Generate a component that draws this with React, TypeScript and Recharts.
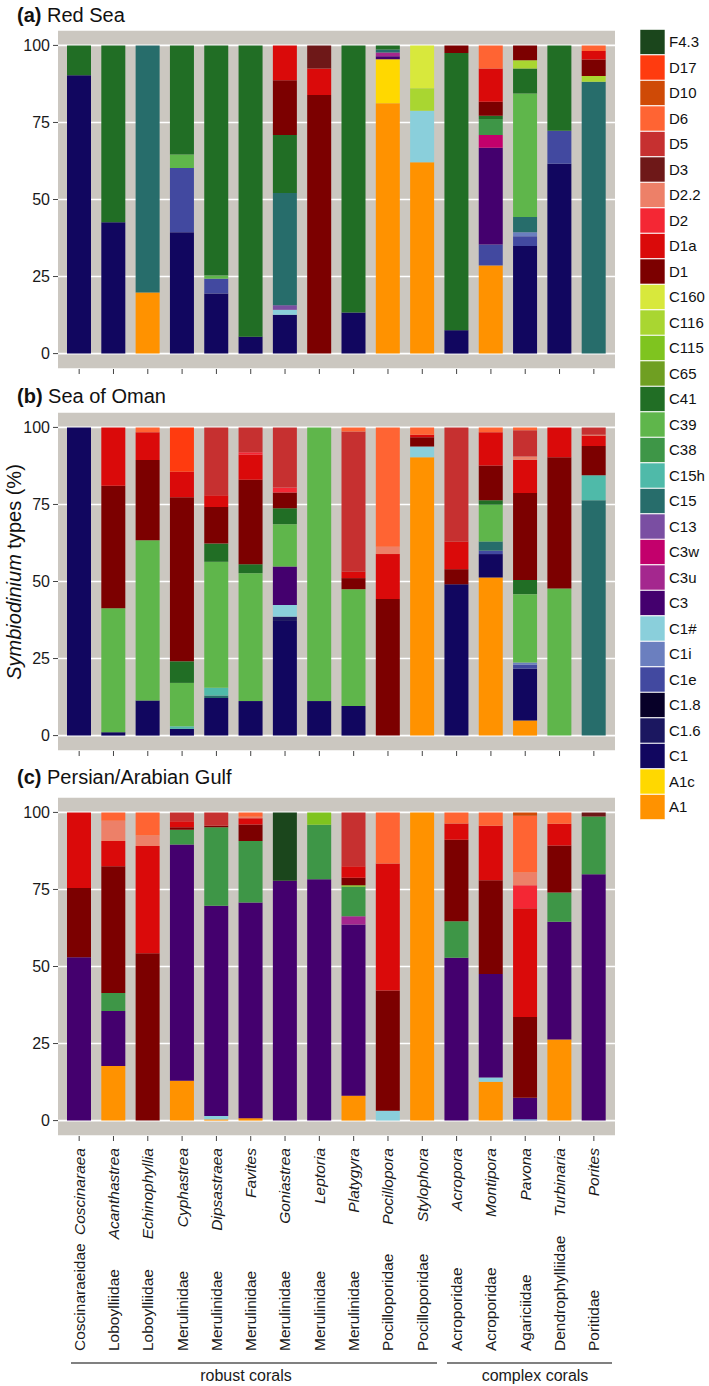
import React from 'react';
import { Bar, BarChart, CartesianGrid, XAxis, YAxis } from 'recharts';

// Symbiodinium type composition per coral genus in three regions.
const GENERA = [
  'Coscinaraea', 'Acanthastrea', 'Echinophyllia', 'Cyphastrea', 'Dipsastraea', 'Favites',
  'Goniastrea', 'Leptoria', 'Platygyra', 'Pocillopora', 'Stylophora', 'Acropora',
  'Montipora', 'Pavona', 'Turbinaria', 'Porites',
];

const FAMILIES = [
  'Coscinaraeidae', 'Loboylliidae', 'Loboylliidae', 'Merulinidae', 'Merulinidae', 'Merulinidae',
  'Merulinidae', 'Merulinidae', 'Merulinidae', 'Pocilloporidae', 'Pocilloporidae', 'Acroporidae',
  'Acroporidae', 'Agariciidae', 'Dendrophylliidae', 'Poritidae',
];

// stacking order, bottom to top
const TYPES = [
  'A1', 'A1c', 'C1', 'C1.6', 'C1.8', 'C1e', 'C1i', 'C1#', 'C3', 'C3u', 'C3w', 'C13', 'C15',
  'C15h', 'C38', 'C39', 'C41', 'C65', 'C115', 'C116', 'C160', 'D1', 'D1a', 'D2', 'D2.2', 'D3',
  'D5', 'D6', 'D10', 'D17', 'F4.3',
];

const TYPE_COLORS = [
  '#ff9200', '#ffd800', '#11065f', '#1b1760', '#070028', '#4249a0', '#6b7fbf', '#8acfdb',
  '#44006e', '#a4278e', '#c3006c', '#7a4ea2', '#276d6b', '#4fbaa9', '#3e9647', '#5fb64b',
  '#216e25', '#6f9f22', '#7fc41f', '#a9d631', '#d8e83c', '#7c0000', '#da0a0a', '#f42734',
  '#ed8068', '#6e1818', '#c63030', '#ff6433', '#cf4a06', '#ff3b0f', '#1b461c',
];

const Y_TICKS = [0, 25, 50, 75, 100];

const RED_SEA: Record<string, number>[] = [
  { C1: 90.3, C41: 9.7 },
  { C1: 42.6, C41: 57.4 },
  { A1: 19.8, C15: 80.2 },
  { C1: 39.4, C1e: 20.8, C39: 4.4, C41: 35.4 },
  { C1: 19.5, C1e: 4.8, C39: 1.0, C41: 74.7 },
  { C1: 5.5, C41: 94.5 },
  { C1: 12.6, 'C1#': 1.6, C13: 1.5, C15: 36.4, C41: 18.8, D1: 17.8, D1a: 11.3 },
  { D1: 83.9, D1a: 8.6, D3: 7.5 },
  { C1: 13.3, C41: 86.7 },
  { A1: 81.2, A1c: 14.3, C3: 1.0, C3u: 1.2, C15: 1.0, C41: 1.3 },
  { A1: 62.1, 'C1#': 16.7, C116: 7.3, C160: 13.9 },
  { C1: 7.6, C41: 89.9, D1: 2.5 },
  { A1: 28.6, C1e: 6.8, C3: 31.4, C3w: 4.1, C38: 5.2, C41: 1.1, D1: 4.5, D1a: 10.8, D6: 7.5 },
  { C1: 34.9, C1e: 3.2, C1i: 1.3, C15: 4.9, C39: 40.1, C41: 8.1, C116: 2.7, D1: 4.8 },
  { C1: 61.6, C1e: 10.7, C41: 27.7 },
  { C15: 88.2, C116: 1.9, D1: 5.3, D1a: 2.8, D6: 1.8 },
];

const SEA_OF_OMAN: Record<string, number>[] = [
  { C1: 100 },
  { C1: 1.1, C39: 40.2, D1: 39.8, D1a: 18.9 },
  { C1: 11.4, C39: 52, D1: 26, D1a: 9, D6: 1.6 },
  { C1: 2.2, C15h: 0.8, C39: 14.1, C41: 7, D1: 53.2, D1a: 8.3, D17: 14.4 },
  { C1: 12.2, C15: 0.8, C15h: 2.5, C39: 40.9, C41: 5.9, D1: 11.9, D1a: 3.8, D5: 22 },
  { C1: 11.2, C39: 41.5, C41: 2.9, D1: 27.4, D1a: 8.1, D2: 0.8, D5: 8.1 },
  { C1: 37.2, 'C1.6': 1.4, 'C1#': 3.8, C3: 12.5, C39: 13.7, C41: 5.2, D1: 5.1, D2: 1.6, D5: 19.5 },
  { C1: 11.2, C39: 88.8 },
  { C1: 9.6, C39: 37.9, D1: 3.6, D1a: 2.1, D5: 45.5, D6: 1.3 },
  { D1: 44.3, D1a: 14.6, 'D2.2': 2.4, D6: 38.7 },
  { A1: 90.3, 'C1#': 3.5, D1: 3, D1a: 0.8, D6: 2.4 },
  { C1: 49.1, D1: 4.9, D1a: 9, D5: 37 },
  { A1: 51.3, C1: 7.6, C1e: 1.1, C15: 3, C39: 11.9, C41: 1.5, D1: 11.2, D1a: 10.8, D6: 1.6 },
  { A1: 4.9, C1: 16.8, C1e: 1.3, C1i: 0.7, C39: 22.2, C41: 4.6, D1: 28.2, D1a: 10.8, 'D2.2': 1.1, D5: 8.5, D6: 0.9 },
  { C39: 47.7, D1: 42.6, D1a: 9.7 },
  { C15: 76.4, C15h: 8.1, D1: 9.5, D1a: 3.4, 'D2.2': 0.2, D5: 2.4 },
];

const GULF: Record<string, number>[] = [
  { C3: 53, D1: 22.5, D1a: 24.5 },
  { A1: 17.7, C3: 17.9, C38: 5.8, D1: 41.1, D1a: 8.2, 'D2.2': 6.6, D6: 2.7 },
  { D1: 54.3, D1a: 34.8, 'D2.2': 3.4, D6: 7.5 },
  { A1: 12.9, C3: 76.7, C38: 4.8, D1: 0.8, D1a: 1.9, D5: 2.9 },
  { A1: 0.4, 'C1#': 1.1, C3: 68.2, C38: 25.5, D1: 0.5, D5: 4.3 },
  { A1: 0.8, C3: 70, C38: 19.9, D1: 5.4, D1a: 2, 'D2.2': 0.5, D6: 1.4 },
  { C3: 77.8, 'F4.3': 22.2 },
  { C3: 78.3, C38: 17.7, C115: 4 },
  { A1: 8.1, C3: 55.5, C3u: 2.7, C38: 9.6, C115: 0.5, D1: 2.4, D1a: 3.7, D5: 17.5 },
  { 'C1#': 3.2, D1: 39, D1a: 41.2, D6: 16.6 },
  { A1: 100 },
  { C3: 52.8, C38: 11.9, D1: 26.4, D1a: 5.3, D6: 3.6 },
  { A1: 12.6, 'C1#': 1.4, C3: 33.6, D1: 30.4, D1a: 17.7, D6: 4.3 },
  { C1i: 0.5, C3: 6.9, D1: 26.2, D1a: 35.3, D2: 7.5, 'D2.2': 4.1, D6: 18.4, D10: 1.1 },
  { A1: 26.3, C3: 38.2, C38: 9.5, D1: 15.3, D1a: 7, D6: 3.7 },
  { C3: 79.9, C38: 18.8, D3: 1.3 },
];

const FONT = '"Liberation Sans", Arial, Helvetica, sans-serif';
const PANEL_BG = '#cbc7c0';
const PLOT_H = 339;
const LABEL_SIZE = 15.5;

// type names contain "." and "#", so the rows use index keys
function buildRows(values: Record<string, number>[]) {
  return GENERA.map((genus, i) => {
    const row: Record<string, string | number> = { genus, family: FAMILIES[i] };
    TYPES.forEach((t, k) => {
      row[`t${k}`] = values[i][t] ?? 0;
    });
    return row;
  });
}

function NoTick() {
  return <g />;
}

function GenusTick(props: any) {
  const { x, y, payload, index } = props;
  const fam = FAMILIES[payload?.index ?? index];
  return (
    <g>
      <text
        x={x}
        y={y + 5}
        dy="0.35em"
        transform={`rotate(-90, ${x}, ${y + 5})`}
        textAnchor="end"
        fontStyle="italic"
        fontSize={LABEL_SIZE}
        fill="#1a1a1a"
        fontFamily={FONT}
      >
        {payload.value}
      </text>
      <text
        x={x}
        y={y + 208}
        dy="0.35em"
        transform={`rotate(-90, ${x}, ${y + 208})`}
        textAnchor="start"
        fontSize={LABEL_SIZE}
        fill="#1a1a1a"
        fontFamily={FONT}
      >
        {fam}
      </text>
    </g>
  );
}

function Panel({ values, top, labels }: { values: Record<string, number>[]; top: number; labels?: boolean }) {
  const axisH = labels ? 250 : 12;
  return (
    <div style={{ position: 'absolute', left: 0, top }}>
      <BarChart
        width={620}
        height={PLOT_H + axisH}
        data={buildRows(values)}
        margin={{ top: 0, right: 5, bottom: 0, left: 0 }}
        barSize={24}
      >
        <CartesianGrid vertical={false} stroke="#ffffff" strokeWidth={1.6} fill={PANEL_BG} fillOpacity={1} />
        <XAxis
          dataKey="genus"
          interval={0}
          height={axisH}
          padding={{ left: 4, right: 4 }}
          axisLine={false}
          tickSize={5}
          tickMargin={2}
          tickLine={{ stroke: '#444' }}
          tick={labels ? (p: any) => <GenusTick {...p} /> : () => <NoTick />}
        />
        <YAxis
          type="number"
          domain={[-5, 105]}
          allowDataOverflow
          ticks={Y_TICKS}
          width={58}
          axisLine={false}
          tickSize={5}
          tickMargin={3}
          tickLine={{ stroke: '#444' }}
          tick={{ fill: '#1a1a1a', fontSize: 16, fontFamily: FONT }}
        />
        {TYPES.map((t, k) => (
          <Bar key={t} dataKey={`t${k}`} stackId="s" fill={TYPE_COLORS[k]} isAnimationActive={false} />
        ))}
      </BarChart>
    </div>
  );
}

export default function App() {
  const legend = TYPES.map((t, k) => ({ t, color: TYPE_COLORS[k] })).reverse();
  return (
    <div
      style={{
        position: 'absolute',
        left: 0,
        top: 0,
        width: 709,
        height: 1386,
        background: '#fff',
        fontFamily: FONT,
        overflow: 'hidden',
      }}
    >
      <Panel values={RED_SEA} top={30} />
      <Panel values={SEA_OF_OMAN} top={412} />
      <Panel values={GULF} top={797} labels />
      <svg width={709} height={1386} style={{ position: 'absolute', left: 0, top: 0, pointerEvents: 'none' }}>
        <g fontFamily={FONT} fontSize={20} fill="#111">
          <text x={17} y={22}>
            <tspan fontWeight="bold">(a)</tspan> Red Sea
          </text>
          <text x={17} y={403}>
            <tspan fontWeight="bold">(b)</tspan> Sea of Oman
          </text>
          <text x={17} y={784}>
            <tspan fontWeight="bold">(c)</tspan> Persian/Arabian Gulf
          </text>
        </g>
        <text
          x={14}
          y={572}
          dy="0.35em"
          transform="rotate(-90, 14, 572)"
          textAnchor="middle"
          fontFamily={FONT}
          fontSize={20}
          fill="#111"
        >
          <tspan fontStyle="italic">Symbiodinium</tspan> types (%)
        </text>
        <g stroke="#808080" strokeWidth={2}>
          <line x1={71} x2={437} y1={1363} y2={1363} />
          <line x1={447} x2={612} y1={1363} y2={1363} />
        </g>
        <g fontFamily={FONT} fontSize={16} fill="#1a1a1a" textAnchor="middle">
          <text x={246} y={1381}>robust corals</text>
          <text x={535} y={1381}>complex corals</text>
        </g>
        {legend.map((d, i) => {
          const cy = 42 + i * 25.5;
          return (
            <g key={d.t}>
              <rect x={640} y={cy - 12.5} width={25} height={25} fill={d.color} stroke="#fff" strokeWidth={0.6} />
              <text x={669} y={cy} dy="0.35em" fontFamily={FONT} fontSize={15} fill="#111">
                {d.t}
              </text>
            </g>
          );
        })}
      </svg>
    </div>
  );
}
